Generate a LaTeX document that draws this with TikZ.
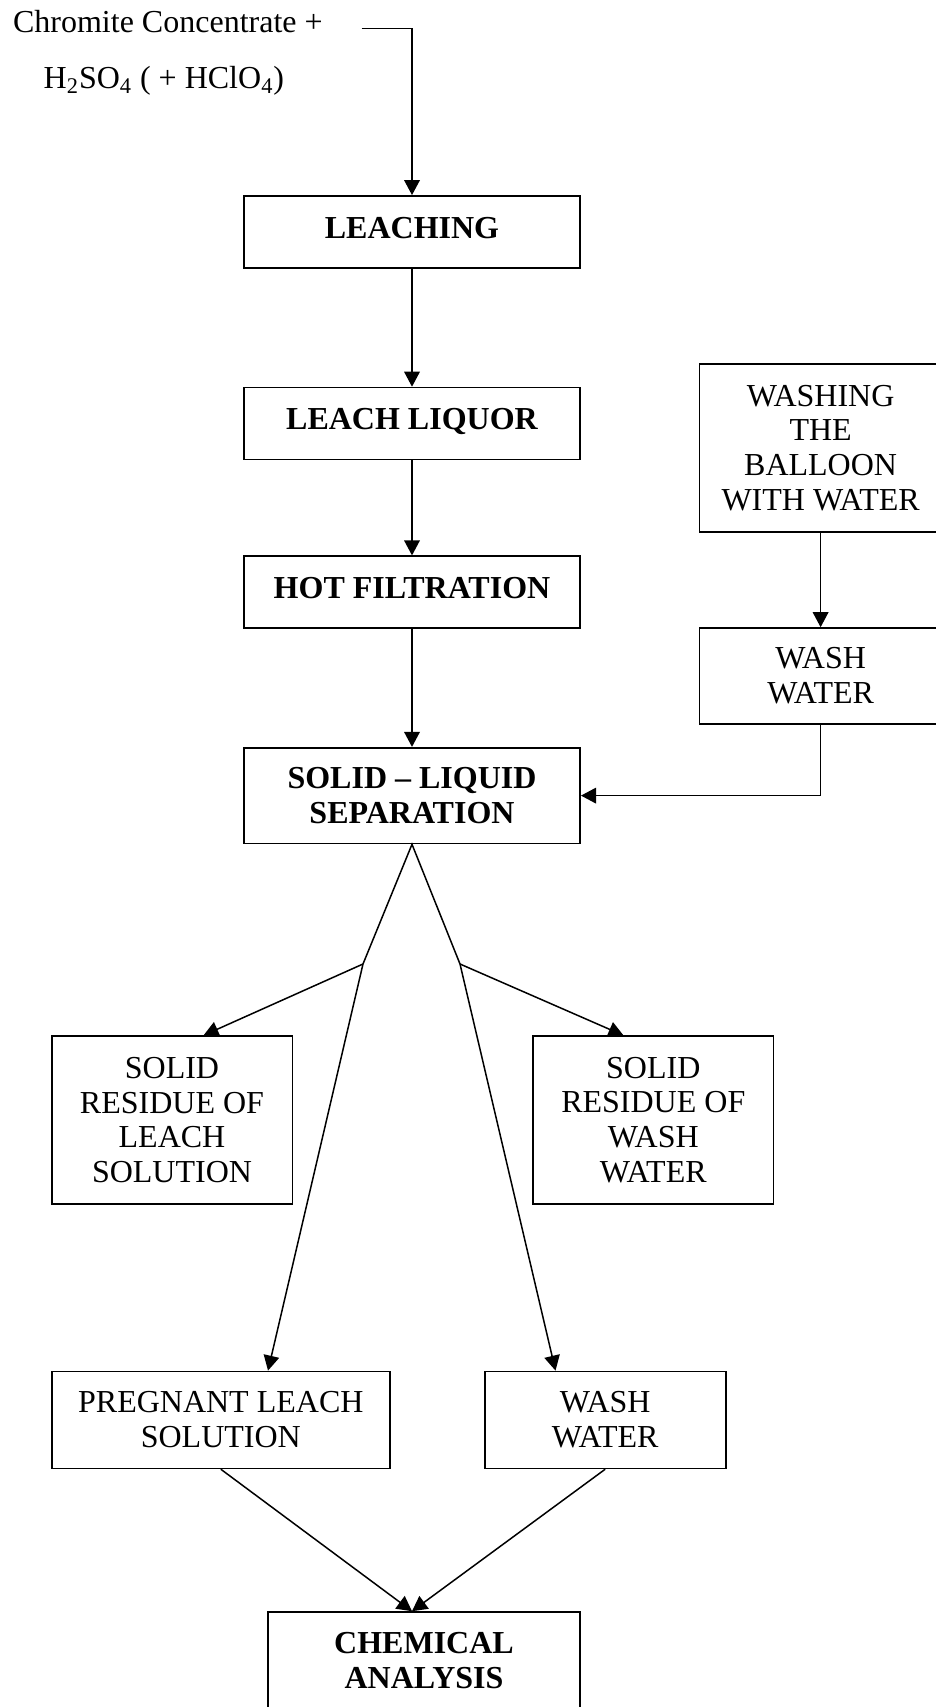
\documentclass[tikz,border=0pt]{standalone}
\usepackage{fontspec}
\setmainfont{Liberation Serif}
\usetikzlibrary{positioning,arrows.meta}

\tikzset{
    txt/.style={inner sep=0pt, font=\fontsize{16}{17.4}\selectfont},
    box/.style={draw, line width=0.8pt, align=center, inner sep=0pt,
        font=\fontsize{16}{17.4}\selectfont},
    boldbox/.style={box, font=\fontsize{16}{17.4}\selectfont\bfseries},
    oneline/.style={boldbox, text depth=4pt, minimum width=168.2pt, minimum height=35.9pt},
    arr/.style={-{Triangle[width=7.8pt,length=7.5pt]}, line width=0.75pt},
    flow/.style={line width=0.75pt}
}

\begin{document}
\begin{tikzpicture}[x=0.5pt,y=-0.5pt]
    \clip (0,0) rectangle (936,1707);

    % feed
    \node[txt, anchor=base west] (feed) at (12.7,33) {Chromite Concentrate +};
    \node[txt, anchor=base west] (acid) at (43.3,88.3)
        {H\textsubscript{2}SO\textsubscript{4} ( + HClO\textsubscript{4})};
    \coordinate (feedin) at (361.7,28.3);

    % main line
    \node[oneline] (leach) at (412,231.8) {LEACHING};
    \node[oneline] (liquor) at (412,423.4) {LEACH LIQUOR};
    \node[oneline] (hotfilt) at (412,592.1) {HOT FILTRATION};
    \node[boldbox, minimum width=168.2pt, minimum height=47.9pt] (sls) at (412,795.6) {SOLID -- LIQUID\\SEPARATION};

    % washing
    \node[box, minimum width=121pt, minimum height=84pt] (washing) at (820.6,448) {WASHING\\THE\\BALLOON\\WITH WATER};
    \node[box, minimum width=121pt, minimum height=47.9pt] (washw) at (820.6,675.9) {WASH\\WATER};

    % products
    \node[box, minimum width=120.3pt, minimum height=83.8pt] (resleach) at (172,1120) {SOLID\\RESIDUE OF\\LEACH\\SOLUTION};
    \node[box, minimum width=120.3pt, minimum height=83.8pt] (reswash) at (653.3,1120) {SOLID\\RESIDUE OF\\WASH\\WATER};
    \node[box, minimum width=169pt, minimum height=48.5pt] (pls) at (220.8,1419.9) {PREGNANT LEACH\\SOLUTION};
    \node[box, minimum width=120.5pt, minimum height=48.5pt] (ww) at (605.2,1419.9) {WASH\\WATER};
    \node[boldbox, minimum width=156.2pt, minimum height=48.5pt] (chem) at (424,1660.5) {CHEMICAL\\ANALYSIS};

    \coordinate (bl) at (363,964);
    \coordinate (br) at (460,964);

    % connectors
    \draw[arr] (feedin) -| (leach.north);
    \draw[arr] (leach) -- (liquor);
    \draw[arr] (liquor) -- (hotfilt);
    \draw[arr] (hotfilt) -- (sls);
    \draw[arr] (washing) -- (washw);
    \draw[arr] (washw.south) |- (sls.east);
    \draw[flow] (bl) -- (sls.south) -- (br);
    \draw[arr] (bl) -- ([xshift=15.75pt]resleach.north);
    \draw[arr] (br) -- ([xshift=-14.9pt]reswash.north);
    \draw[arr] (bl) -- ([xshift=23.6pt]pls.north);
    \draw[arr] (br) -- ([xshift=-24.85pt]ww.north);
    \draw[arr] (pls.south) -- (chem.north -| sls.south);
    \draw[arr] (ww.south) -- (chem.north -| sls.south);
\end{tikzpicture}
\end{document}
